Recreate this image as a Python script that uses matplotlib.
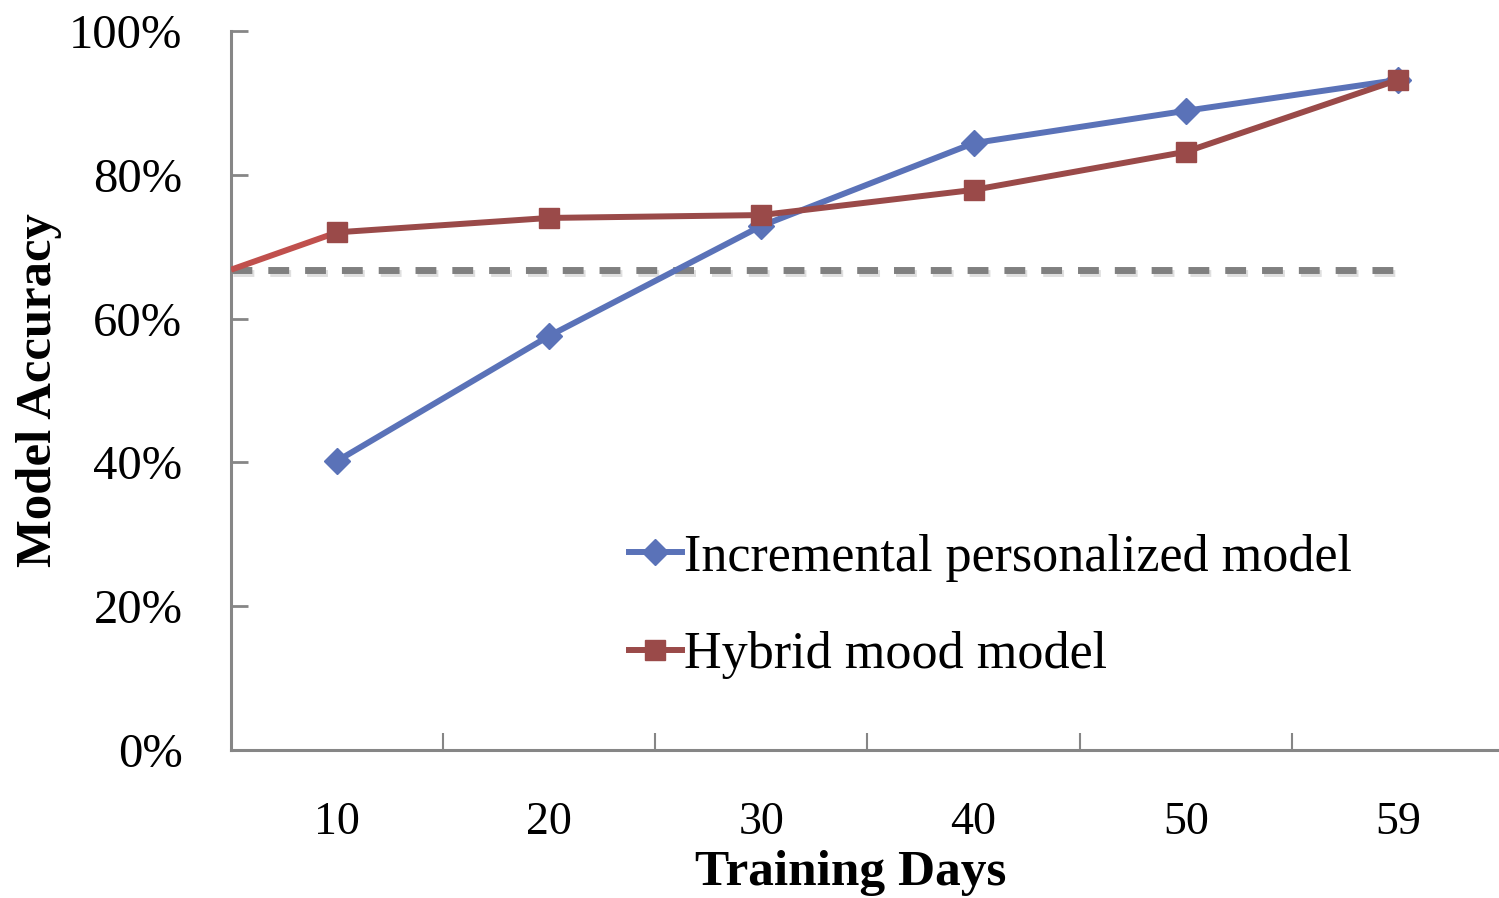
import matplotlib
matplotlib.use("Agg")
import matplotlib.pyplot as plt
import matplotlib.patheffects as pe
from matplotlib.ticker import PercentFormatter

days = ["10", "20", "30", "40", "50", "59"]
incremental = [0.402, 0.576, 0.729, 0.844, 0.889, 0.932]
hybrid = [0.720, 0.740, 0.744, 0.779, 0.832, 0.932]
hybrid_start = 0.668   # hybrid value entering from the left edge
baseline = 0.668       # dashed reference level

plt.rcParams['font.family'] = ['Liberation Serif', 'DejaVu Serif']

fig = plt.figure(figsize=(14.99, 8.98), dpi=100)
ax = fig.add_axes([231 / 1499, 1 - 750 / 898, (1504 - 231) / 1499, (750 - 31) / 898])

x = list(range(1, len(days) + 1))
axis_gray = '#868686'

# dashed baseline with a soft shadow
ax.plot([0.5, x[-1]], [baseline, baseline], color='#808080', lw=5, dashes=(3, 2.3),
        solid_capstyle='butt', dash_capstyle='butt', zorder=2,
        path_effects=[pe.SimpleLineShadow(offset=(1.5, -2.5), alpha=0.25, shadow_color='gray'),
                      pe.Normal()])

# hybrid lead-in from the left edge
ax.plot([0.5, x[0]], [hybrid_start, hybrid[0]], color='#C0504D', lw=4.3, zorder=3,
        solid_capstyle='butt')

ax.plot(x, incremental, color='#5A72B8', lw=4.3, marker='D', markersize=13,
        label='Incremental personalized model', zorder=4)
ax.plot(x, hybrid, color='#9A4A49', lw=4.3, marker='s', markersize=15,
        label='Hybrid mood model', zorder=4)

ax.set_xlim(0.5, len(days) + 0.5)
ax.set_ylim(0, 1)
ax.set_xticks(x)
ax.set_xticklabels(days)
ax.set_xticks([i + 0.5 for i in x[:-1]], minor=True)
ax.set_yticks([0, 0.2, 0.4, 0.6, 0.8, 1.0])
ax.yaxis.set_major_formatter(PercentFormatter(1.0, decimals=0))

for s in ['top', 'right']:
    ax.spines[s].set_visible(False)
for s in ['left', 'bottom']:
    ax.spines[s].set_color(axis_gray)
    ax.spines[s].set_linewidth(2.2)

ax.tick_params(axis='x', which='major', length=0, pad=37, labelsize=33)
ax.tick_params(axis='x', which='minor', direction='in', length=12, width=1.5, color=axis_gray)
ax.tick_params(axis='y', direction='in', length=12, width=2, color=axis_gray,
               pad=35, labelsize=35)

ax.set_xlabel('Training Days', fontsize=37, fontweight='bold')
ax.xaxis.set_label_coords((851 - 231) / 1273, -0.139)
ax.set_ylabel('Model Accuracy', fontsize=36.5, fontweight='bold')
ax.yaxis.set_label_coords(-0.133, 0.5)

ax.legend(loc='upper left', bbox_to_anchor=(0.296, 0.33), frameon=False, fontsize=37.5,
          handlelength=1.03, handletextpad=0.04, labelspacing=0.95, borderaxespad=0)

fig.savefig('out.png', dpi=100)
